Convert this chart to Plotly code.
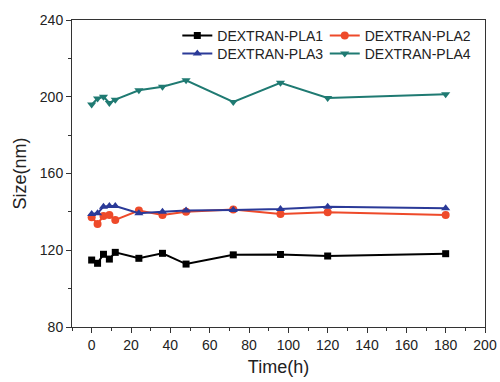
import plotly.graph_objects as go

time_h = [0, 3, 6, 9, 12, 24, 36, 48, 72, 96, 120, 180]
pla1 = [114.9, 113.2, 117.9, 115.4, 118.9, 115.8, 118.4, 112.8, 117.6, 117.8, 117.0, 118.2]
pla2 = [137.2, 133.7, 137.9, 138.4, 135.8, 140.7, 138.4, 140.1, 141.2, 138.9, 139.8, 138.4]
pla3 = [138.9, 139.3, 142.7, 143.1, 143.1, 139.3, 140.1, 140.7, 141.0, 141.5, 142.7, 141.9]
pla4 = [195.9, 199.1, 200.0, 196.8, 198.5, 203.4, 205.2, 208.6, 197.3, 207.3, 199.4, 201.3]

series = [
    ("DEXTRAN-PLA1", pla1, "#000000", "square", 7, "legend"),
    ("DEXTRAN-PLA2", pla2, "#ee4a2a", "circle", 8, "legend2"),
    ("DEXTRAN-PLA3", pla3, "#2b3a98", "triangle-up", 8, "legend3"),
    ("DEXTRAN-PLA4", pla4, "#1f7a72", "triangle-down", 8, "legend4"),
]

fig = go.Figure()
for name, vals, color, sym, sz, leg in series:
    fig.add_trace(go.Scatter(
        x=time_h, y=vals, name=name, mode="lines+markers",
        line=dict(color=color, width=2),
        marker=dict(symbol=sym, size=sz, color=color),
        legend=leg,
    ))

FONT = "Liberation Sans, Arial"
axis_common = dict(
    showline=True, linecolor="#333333", linewidth=1, mirror=True,
    ticks="outside", ticklen=5, tickcolor="#333333", showgrid=False, zeroline=False,
    tickfont=dict(family=FONT, size=14, color="#222222"),
)

leg_common = dict(yanchor="top", xanchor="left", font=dict(family=FONT, size=14, color="#222222"),
                  bgcolor="rgba(0,0,0,0)", itemwidth=30, tracegroupgap=0)

row2_y = 1 - 18 / 307

fig.update_layout(
    width=500, height=382,
    margin=dict(l=72, r=15, t=20, b=55, autoexpand=False),
    paper_bgcolor="white", plot_bgcolor="white",
    font=dict(family=FONT, color="#222222"),
    xaxis=dict(range=[-10, 200], tickvals=[0, 20, 40, 60, 80, 100, 120, 140, 160, 180, 200],
               minor=dict(dtick=10, tick0=0, ticks="outside", ticklen=3, tickcolor="#333333"),
               title=dict(text="Time(h)", font=dict(size=18, color="#222222"), standoff=8),
               **axis_common),
    yaxis=dict(range=[80, 240], tickvals=[80, 120, 160, 200, 240],
               minor=dict(dtick=20, tick0=80, ticks="outside", ticklen=3, tickcolor="#333333"),
               title=dict(text="Size(nm)", font=dict(size=18, color="#222222"), standoff=8),
               **axis_common),
    legend=dict(x=0.255, y=1.0, **leg_common),
    legend2=dict(x=0.612, y=1.0, **leg_common),
    legend3=dict(x=0.255, y=row2_y, **leg_common),
    legend4=dict(x=0.612, y=row2_y, **leg_common),
    showlegend=True,
)

fig.write_html("out.html")
